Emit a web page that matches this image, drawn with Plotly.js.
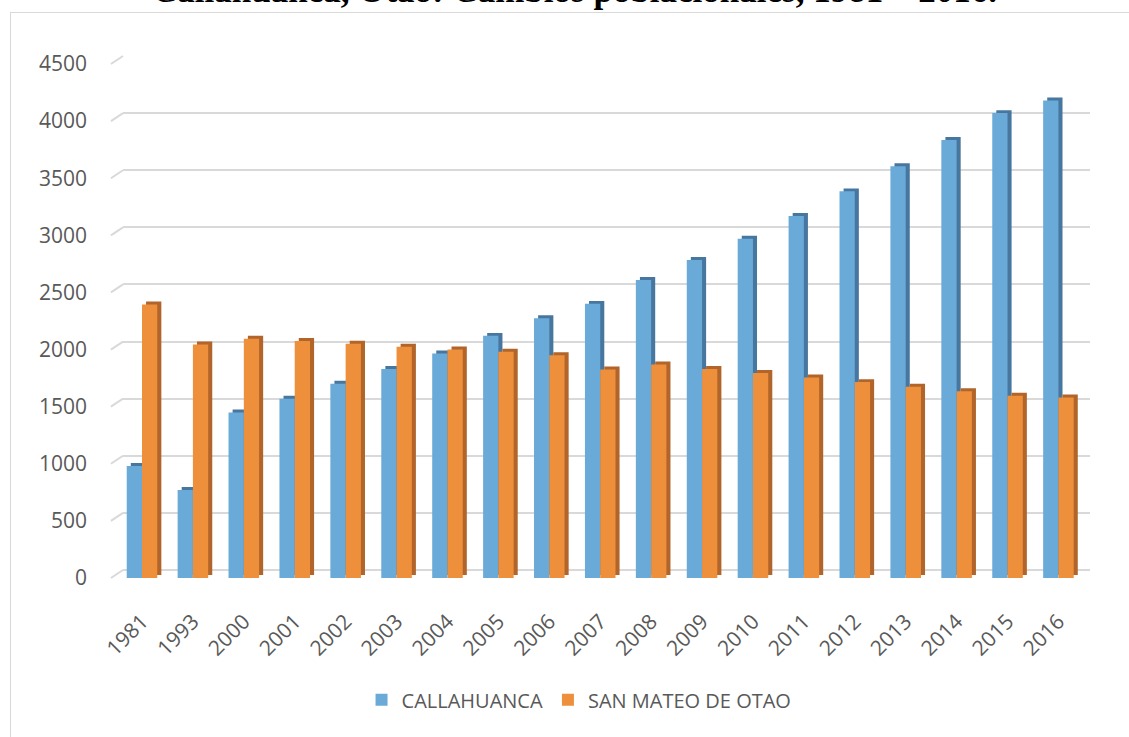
<!DOCTYPE html>
<html>
<head>
<meta charset="utf-8">
<script src="https://cdn.plot.ly/plotly-3.0.1.min.js"></script>
<style>
  html, body { margin: 0; padding: 0; background: #ffffff; overflow: hidden; }
  #frame { position: absolute; left: 10px; top: 12px; width: 1200px; height: 800px; border: 1px solid #d9d9d9; box-sizing: border-box; }
  #chart { position: absolute; left: 0; top: 0; width: 1129px; height: 737px; }
</style>
</head>
<body>
<div id="frame"></div>
<div id="chart"></div>
<script>
// ---- data ----
const years = ["1981","1993","2000","2001","2002","2003","2004","2005","2006","2007","2008","2009","2010","2011","2012","2013","2014","2015","2016"];
const callahuanca = [980, 770, 1450, 1570, 1700, 1830, 1965, 2120, 2275, 2400, 2610, 2785, 2970, 3170, 3385, 3605, 3835, 4070, 4180];
const sanMateoDeOtao = [2395, 2045, 2095, 2075, 2050, 2025, 2000, 1980, 1950, 1825, 1870, 1830, 1795, 1755, 1715, 1675, 1635, 1595, 1580];
const seriesNames = ["CALLAHUANCA", "SAN MATEO DE OTAO"];
const yTicks = [0, 500, 1000, 1500, 2000, 2500, 3000, 3500, 4000, 4500];
const titleText = "Callahuanca, Otao: Cambios poblacionales, 1981 – 2016.";

// ---- style ----
const blue = "#6aaad9", blueSide = "#47779f";
const orange = "#ee8f3b", orangeSide = "#b1652a";
const W = 0.30;          // bar width (category units)
const DX = 0.08;         // bar depth shift right (category units)
const DY = 26;           // bar depth shift up (value units)
const WALL = 70;         // back-wall shift up of the grid (value units)
const Y_MAX = 4500;
const gridColor = "#d9d9d9";

const traces = [
  // a hidden trace so the back-wall grid axis is drawn
  { type: "scatter", x: [years[0]], y: [null], yaxis: "y2",
    showlegend: false, hoverinfo: "skip", mode: "markers" },
  // depth (side/top) faces, drawn behind
  { type: "bar", x: years, y: callahuanca, base: DY, offset: -W + DX, width: W,
    marker: { color: blueSide }, showlegend: false, hoverinfo: "skip" },
  { type: "bar", x: years, y: sanMateoDeOtao, base: DY, offset: DX, width: W,
    marker: { color: orangeSide }, showlegend: false, hoverinfo: "skip" },
  // front faces
  { type: "bar", name: seriesNames[0], x: years, y: callahuanca, offset: -W, width: W,
    marker: { color: blue } },
  { type: "bar", name: seriesNames[1], x: years, y: sanMateoDeOtao, offset: 0, width: W,
    marker: { color: orange } }
];

// short diagonal stubs joining each front tick to its back-wall gridline
const stubs = yTicks.map(v => ({
  type: "line", xref: "paper", yref: "paper",
  x0: -0.0125, y0: v / Y_MAX, x1: 0, y1: (v + WALL) / Y_MAX,
  line: { color: gridColor, width: 2 }, layer: "above"
}));

const layout = {
  width: 1129, height: 737,
  paper_bgcolor: "rgba(0,0,0,0)", plot_bgcolor: "rgba(0,0,0,0)",
  barmode: "overlay",
  margin: { l: 123, r: 39, t: 64, b: 159, pad: 0 },
  font: { family: "Open Sans, sans-serif", color: "#595959" },
  annotations: [{
    text: "<b>" + titleText + "</b>",
    font: { family: "Liberation Serif, Times New Roman, serif", size: 35, color: "#000000" },
    xref: "paper", yref: "paper", x: 0.467, y: 1.101,
    xanchor: "center", yanchor: "bottom", showarrow: false
  }],
  shapes: stubs,
  xaxis: {
    type: "category",
    range: [-0.373, 18.62],
    tickangle: -45,
    tickfont: { size: 21, color: "#595959" },
    ticks: "", showgrid: false, zeroline: false,
    showline: false,
    ticklabelstandoff: 26
  },
  yaxis: {
    range: [0, Y_MAX],
    tickvals: yTicks,
    ticktext: yTicks.map(String),
    tickfont: { size: 21, color: "#595959" },
    showgrid: false,
    zeroline: false,
    ticks: "", ticklabelstandoff: 35, showline: false
  },
  yaxis2: {
    overlaying: "y",
    range: [-WALL, Y_MAX - WALL],
    tickvals: yTicks,
    showticklabels: false,
    showgrid: true, gridcolor: gridColor, gridwidth: 2,
    zeroline: false, ticks: "", showline: false
  },
  showlegend: true,
  legend: {
    orientation: "h", x: 0.4716, xanchor: "center", y: -0.237, yanchor: "middle",
    font: { size: 20, color: "#595959" },
    itemwidth: 30, traceorder: "normal",
    bgcolor: "rgba(0,0,0,0)"
  }
};

Plotly.newPlot("chart", traces, layout, { displayModeBar: false, staticPlot: true });
</script>
</body>
</html>
